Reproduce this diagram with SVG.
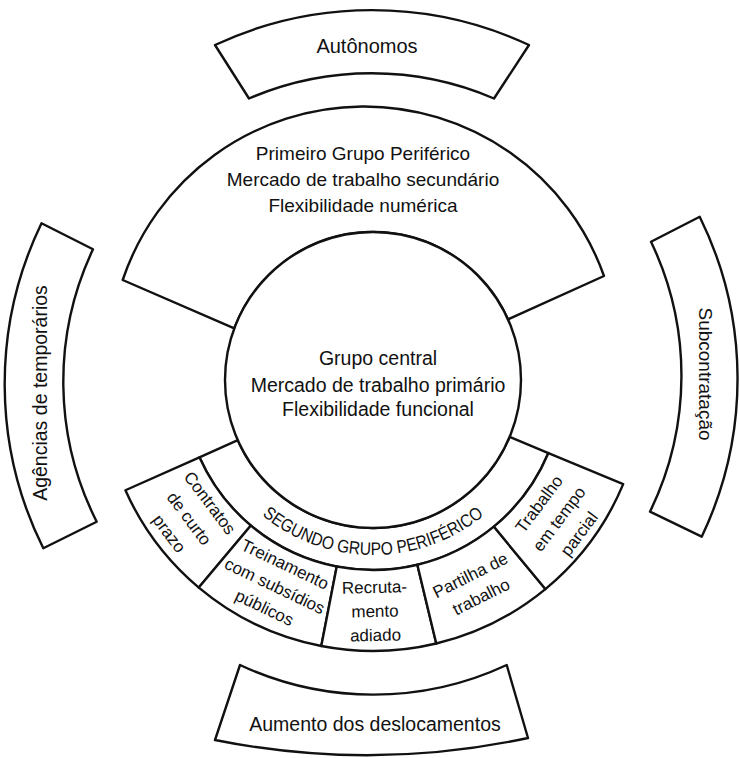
<svg xmlns="http://www.w3.org/2000/svg" width="740" height="758" viewBox="0 0 740 758">
  <defs>
    <style>
      .shape { fill: #ffffff; stroke: #111111; stroke-width: 2.4; stroke-linejoin: round; }
      .t { font-family: "Liberation Sans", Arial, sans-serif; fill: #111111; text-anchor: middle; }
      .big { font-size: 19.5px; }
      .mid { font-size: 19px; }
      .small { font-size: 17px; }
    </style>
    <path id="segArc" d="M 221.45,467.5 A 175 175 0 0 0 524.55,467.5" fill="none"/>
  </defs>
  <rect x="0" y="0" width="740" height="758" fill="#ffffff"/>

  <g id="node-autonomos">
    <path class="shape" d="M 215,45 A 371 371 0 0 1 529,45 L 494,98.5 A 310 310 0 0 0 249,98.5 Z"/>
    <text class="t" style="font-size:20px" x="367" y="53">Autônomos</text>
  </g>

  <g id="node-agencias">
    <path class="shape" d="M 41.5,223.3 A 369 369 0 0 0 43.3,548.3 L 96.7,521.7 A 310 310 0 0 1 93,249.3 Z"/>
    <text class="t big" transform="translate(47,393) rotate(-90)" x="0" y="0">Agências de temporários</text>
  </g>

  <g id="node-subcontratacao">
    <path class="shape" d="M 651,241.7 L 699.7,216.7 A 366 366 0 0 1 701.7,536.7 L 650,511.7 A 310 310 0 0 0 651,241.7 Z"/>
    <text class="t mid" transform="translate(699,374) rotate(90)" x="0" y="0">Subcontratação</text>
  </g>

  <g id="node-aumento">
    <path class="shape" d="M 240,665 A 315 315 0 0 0 506.7,665 L 528,738 A 770 770 0 0 1 215,740 Z"/>
    <text class="t big" x="375" y="731">Aumento dos deslocamentos</text>
  </g>

  <g id="node-primeiro">
    <path class="shape" d="M 122.7,280 A 254.6 254.6 0 0 1 604,276 L 508.0,319.33 A 148 148 0 0 0 234.28,328.41 Z"/>
    <text class="t mid" x="363" y="160">Primeiro Grupo Periférico</text>
    <text class="t mid" x="363" y="186">Mercado de trabalho secundário</text>
    <text class="t mid" x="363" y="212">Flexibilidade numérica</text>
  </g>

  <g id="node-segundo">
    <path class="shape" d="M 199.43,457.28 A 190 190 0 0 0 548.41,453.02 L 509.64,436.88 A 148 148 0 0 1 237.80,440.20 Z"/>
    <text class="t" style="font-size:18px"><textPath href="#segArc" startOffset="50%" textLength="240" lengthAdjust="spacingAndGlyphs">SEGUNDO GRUPO PERIFÉRICO</textPath></text>
  </g>

  <g id="node-contratos">
    <path class="shape" d="M 199.43,457.28 L 125.43,490.23 A 271 271 0 0 0 198.80,587.60 L 250.87,525.55 A 190 190 0 0 1 199.43,457.28 Z"/>
    <g transform="translate(189.31,518.42) rotate(53)">
      <text class="t small" x="0" y="-20">Contratos</text>
      <text class="t small" x="0" y="6">de curto</text>
      <text class="t small" x="0" y="31">prazo</text>
    </g>
  </g>

  <g id="node-treinamento">
    <path class="shape" d="M 250.87,525.55 L 198.80,587.60 A 271 271 0 0 0 321.29,646.02 L 336.75,566.51 A 190 190 0 0 1 250.87,525.55 Z"/>
    <g transform="translate(274.41,586.69) rotate(25.5)">
      <text class="t small" x="0" y="-19">Treinamento</text>
      <text class="t small" x="0" y="5">com subsídios</text>
      <text class="t small" x="0" y="29">públicos</text>
    </g>
  </g>

  <g id="node-recrutamento">
    <path class="shape" d="M 336.75,566.51 L 321.29,646.02 A 271 271 0 0 0 436.26,643.51 L 417.35,564.75 A 190 190 0 0 1 336.75,566.51 Z"/>
    <g transform="translate(375.02,611.99) rotate(-1.25)">
      <text class="t small" x="0" y="-19">Recruta-</text>
      <text class="t small" x="0" y="5">mento</text>
      <text class="t small" x="0" y="29">adiado</text>
    </g>
  </g>

  <g id="node-partilha">
    <path class="shape" d="M 417.35,564.75 L 436.26,643.51 A 271 271 0 0 0 545.38,589.11 L 493.85,526.61 A 190 190 0 0 1 417.35,564.75 Z"/>
    <g transform="translate(475.63,585.83) rotate(-26.5)">
      <text class="t small" x="0" y="-6">Partilha de</text>
      <text class="t small" x="0" y="18">trabalho</text>
    </g>
  </g>

  <g id="node-trabalho">
    <path class="shape" d="M 493.85,526.61 L 545.38,589.11 A 271 271 0 0 0 623.19,484.14 L 548.41,453.02 A 190 190 0 0 1 493.85,526.61 Z"/>
    <g transform="translate(558.89,518.81) rotate(-53.25)">
      <text class="t small" x="0" y="-19">Trabalho</text>
      <text class="t small" x="0" y="6">em tempo</text>
      <text class="t small" x="0" y="31">parcial</text>
    </g>
  </g>

  <g id="node-central">
    <circle class="shape" cx="373" cy="380" r="148"/>
    <text class="t big" x="378" y="365">Grupo central</text>
    <text class="t big" x="378" y="391.5">Mercado de trabalho primário</text>
    <text class="t big" x="378" y="416">Flexibilidade funcional</text>
  </g>

  <g id="connectors"></g>
</svg>
